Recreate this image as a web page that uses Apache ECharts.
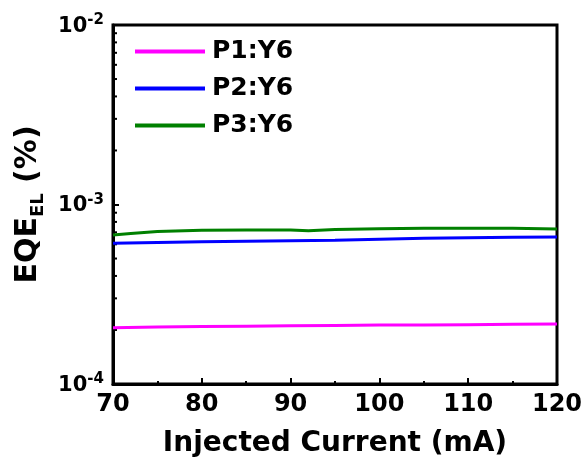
<!DOCTYPE html>
<html>
<head>
<meta charset="utf-8">
<script src="https://cdn.jsdelivr.net/npm/echarts@6/dist/echarts.min.js"></script>
<style>
  html, body { margin: 0; padding: 0; background: #fff; }
  #main { width: 586px; height: 463px; }
</style>
</head>
<body>
<div id="main"></div>
<script>
// 电流 (mA)
var current = [70, 75, 80, 85, 90, 95, 100, 105, 110, 115, 120];
var eqeP1 = [2.06e-4, 2.08e-4, 2.09e-4, 2.10e-4, 2.11e-4, 2.12e-4, 2.13e-4, 2.13e-4, 2.14e-4, 2.15e-4, 2.16e-4];
var eqeP2 = [6.08e-4, 6.15e-4, 6.21e-4, 6.25e-4, 6.29e-4, 6.33e-4, 6.40e-4, 6.48e-4, 6.53e-4, 6.57e-4, 6.60e-4];
var currentP3 = [70, 72, 75, 80, 85, 90, 92, 95, 100, 105, 110, 115, 120];
var eqeP3 = [6.76e-4, 6.90e-4, 7.08e-4, 7.18e-4, 7.22e-4, 7.22e-4, 7.14e-4, 7.26e-4, 7.33e-4, 7.38e-4, 7.38e-4, 7.37e-4, 7.30e-4];
var names = ['P1:Y6', 'P2:Y6', 'P3:Y6'];
var colors = ['#ff00ff', '#0000ff', '#008000'];
// log 次刻度
var minorY = [2e-4, 3e-4, 4e-4, 5e-4, 6e-4, 7e-4, 8e-4, 9e-4, 2e-3, 3e-3, 4e-3, 5e-3, 6e-3, 7e-3, 8e-3, 9e-3];

function pairs(xs, ys) {
  var out = [];
  for (var i = 0; i < xs.length; i++) out.push([xs[i], ys[i]]);
  return out;
}

var FONT = 'DejaVu Sans';
var chart = echarts.init(document.getElementById('main'));

var option = {
  animation: false,
  color: colors,
  grid: {
    left: 113, top: 25, right: 29, bottom: 79,
    show: true, borderColor: '#000', borderWidth: 3
  },
  legend: {
    data: names,
    orient: 'vertical',
    left: 130,
    top: 34,
    itemWidth: 70,
    itemHeight: 4,
    itemGap: 12,
    icon: 'rect',
    textStyle: { fontFamily: FONT, fontWeight: 'bold', fontSize: 25, color: '#000', padding: [0, 0, 0, 2] }
  },
  xAxis: {
    type: 'value',
    min: 70, max: 120, interval: 10,
    name: 'Injected Current (mA)',
    nameLocation: 'middle',
    nameGap: 46,
    nameTextStyle: { fontFamily: FONT, fontWeight: 'bold', fontSize: 28, color: '#000' },
    axisLine: { lineStyle: { color: '#000', width: 3 } },
    axisTick: { inside: true, length: 6, lineStyle: { color: '#000', width: 2 } },
    minorTick: { show: true, splitNumber: 2, length: 3, lineStyle: { color: '#000', width: 2 } },
    splitLine: { show: false },
    axisLabel: { fontFamily: FONT, fontWeight: 'bold', fontSize: 24, color: '#000', margin: 9 }
  },
  yAxis: {
    type: 'log',
    logBase: 10,
    min: 1e-4, max: 1e-2,
    name: '{b|EQE}{s|EL}{b| (%)}',
    nameLocation: 'middle',
    nameRotate: 90,
    nameGap: 62,
    nameTextStyle: {
      rich: {
        b: { fontFamily: FONT, fontWeight: 'bold', fontSize: 30, lineHeight: 30, verticalAlign: 'top', color: '#000' },
        s: { fontFamily: FONT, fontWeight: 'bold', fontSize: 18, lineHeight: 18, verticalAlign: 'top', padding: [16, 0, 0, 0], color: '#000' }
      }
    },
    axisLine: { show: true, lineStyle: { color: '#000', width: 3 } },
    axisTick: { inside: true, length: 6, lineStyle: { color: '#000', width: 2 } },
    splitLine: { show: false },
    axisLabel: {
      margin: 9,
      formatter: function (v) {
        var e = Math.round(Math.log10(v));
        return '{b|10}{s|' + e + '}';
      },
      rich: {
        b: { fontFamily: FONT, fontWeight: 'bold', fontSize: 21, lineHeight: 24, verticalAlign: 'bottom', color: '#000' },
        s: { fontFamily: FONT, fontWeight: 'bold', fontSize: 15, lineHeight: 15, verticalAlign: 'top', padding: [0, 0, 12, 0], color: '#000' }
      }
    }
  },
  series: [
    { name: names[0], type: 'line', data: pairs(current, eqeP1), showSymbol: false, lineStyle: { width: 3 } },
    { name: names[1], type: 'line', data: pairs(current, eqeP2), showSymbol: false, lineStyle: { width: 3 } },
    { name: names[2], type: 'line', data: pairs(currentP3, eqeP3), showSymbol: false, lineStyle: { width: 3 } },
    {
      type: 'custom',
      silent: true,
      data: minorY.map(function (v) { return [70, v]; }),
      encode: { x: 0, y: 1 },
      renderItem: function (params, api) {
        var p = api.coord([api.value(0), api.value(1)]);
        return {
          type: 'line',
          shape: { x1: p[0], y1: p[1], x2: p[0] + 4, y2: p[1] },
          style: { stroke: '#000', lineWidth: 2 }
        };
      }
    }
  ]
};
chart.setOption(option);
</script>
</body>
</html>
